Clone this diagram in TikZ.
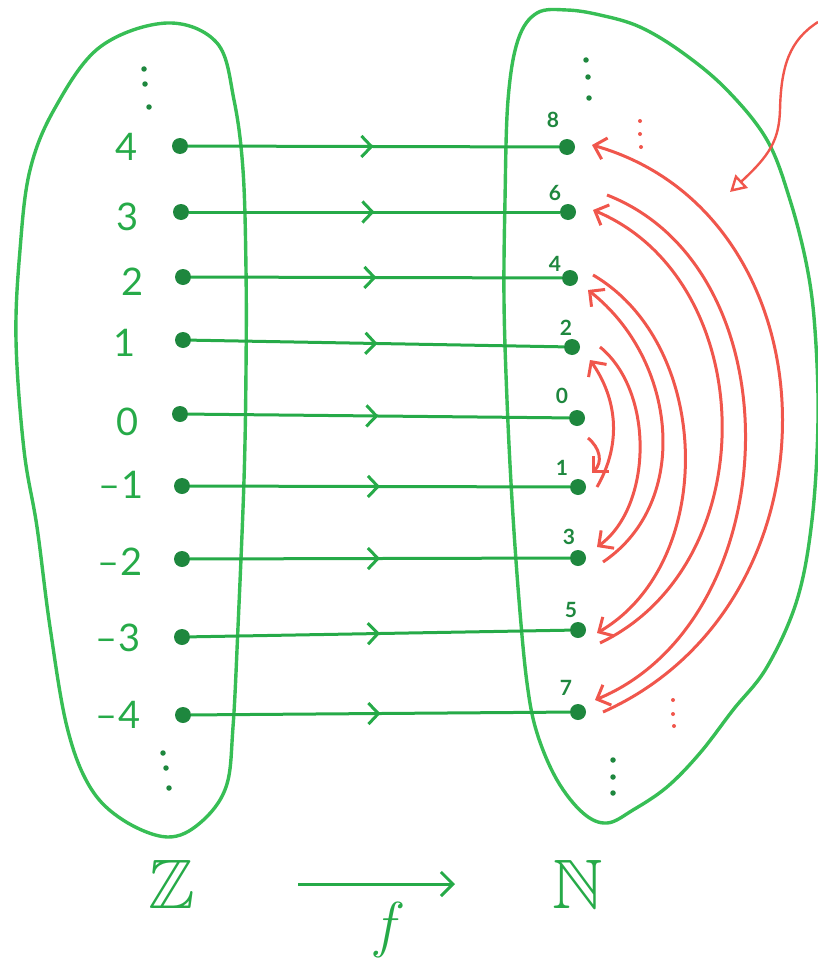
\documentclass[tikz,border=0pt]{standalone}
\usepackage{amssymb}
\usepackage{fontspec}
\setmainfont{Lato}
\newfontfamily\lmfont{Latin Modern Roman}
\usetikzlibrary{arrows.meta,decorations.markings,calc}
\definecolor{gline}{RGB}{38,170,72}
\definecolor{gblob}{RGB}{55,190,85}
\definecolor{gdot}{RGB}{30,135,62}
\definecolor{rline}{RGB}{240,86,76}
\tikzset{
 dot/.style={circle,fill=gdot,inner sep=0pt,minimum size=16pt},
 mapline/.style={color=gline,line width=3pt,postaction={decorate},
   decoration={markings,mark=at position 0.5 with {\arrow{Straight Barb[length=10pt,width=21pt]}}}},
 blob/.style={draw=gblob,line width=3.4pt},
 zlab/.style={text=gline,font=\fontsize{38}{40}\selectfont},
 nlab/.style={text=gdot,font=\fontsize{21}{22}\selectfont\bfseries},
 redarc/.style={draw=rline,line width=3pt,-{Straight Barb[length=11pt,width=22pt]}},
 gell/.style={circle,fill=gdot,inner sep=0pt,minimum size=5.5pt},
 rell/.style={circle,fill=rline,inner sep=0pt,minimum size=4pt},
 bigset/.style={text=gline,font=\fontsize{70}{72}\selectfont},
}
\begin{document}
\begin{tikzpicture}[x=1pt,y=-1pt]
\useasboundingbox (0,0) rectangle (817,966);
% blobs
\draw[blob] plot[smooth cycle,tension=0.6] coordinates {(167,23) (217,43) (234,100) (243,170) (246,270) (246,370) (244,480) (238,627) (233,727) (226,787) (200,823) (167,837) (123,820) (90,787) (67,727) (50,627) (37,527) (24,450) (16,340) (20,250) (30,170) (55,108) (100,47)};
\draw[blob] plot[smooth cycle,tension=0.6] coordinates {(537,13) (567,10) (600,15) (640,27) (683,53) (727,90) (767,140) (790,200) (807,267) (815,330) (818,420) (812,520) (797,600) (767,667) (733,710) (700,753) (667,787) (633,810) (607,823) (583,813) (557,780) (537,733) (527,683) (519,600) (512,500) (507,400) (504,300) (505,200) (508,100) (518,40)};
% Z dots
\node[dot] (z4) at (180,146) {};
\node[dot] (z3) at (181,212) {};
\node[dot] (z2) at (183,277) {};
\node[dot] (z1) at (183,340) {};
\node[dot] (z0) at (180,414) {};
\node[dot] (zm1) at (182,486) {};
\node[dot] (zm2) at (182,559) {};
\node[dot] (zm3) at (182,637) {};
\node[dot] (zm4) at (183,715) {};
% N dots
\node[dot] (n8) at (567,147) {};
\node[dot] (n6) at (568,212) {};
\node[dot] (n4) at (570,278) {};
\node[dot] (n2) at (572,347) {};
\node[dot] (n0) at (577,418) {};
\node[dot] (n1) at (578,487) {};
\node[dot] (n3) at (578,558) {};
\node[dot] (n5) at (578,630) {};
\node[dot] (n7) at (578,712) {};
% Z labels
\node[zlab] (lz4) at (127,147) {4};
\node[zlab] (lz3) at (128,217) {3};
\node[zlab] (lz2) at (133,282) {2};
\node[zlab] (lz1) at (125,343) {1};
\node[zlab] (lz0) at (128,422) {0};
\node[zlab] (lzm1) at (121,485) {–1};
\node[zlab] (lzm2) at (120,562) {–2};
\node[zlab] (lzm3) at (118,638) {–3};
\node[zlab] (lzm4) at (118,715) {–4};
% N labels
\node[nlab] (ln8) at (553,120) {8};
\node[nlab] (ln6) at (555,193) {6};
\node[nlab] (ln4) at (555,264) {4};
\node[nlab] (ln2) at (566,328) {2};
\node[nlab] (ln0) at (562,396) {0};
\node[nlab] (ln1) at (562,468) {1};
\node[nlab] (ln3) at (569,537) {3};
\node[nlab] (ln5) at (571,610) {5};
\node[nlab] (ln7) at (566,688) {7};
% ellipsis dots
\node[gell] (ze1) at (144,69) {};
\node[gell] (ze2) at (145,84) {};
\node[gell] (ze3) at (149,107) {};
\node[gell] (ze4) at (163,753) {};
\node[gell] (ze5) at (166,768) {};
\node[gell] (ze6) at (169,788) {};
\node[gell] (ne1) at (586,60) {};
\node[gell] (ne2) at (588,77) {};
\node[gell] (ne3) at (589,98) {};
\node[gell] (ne4) at (613,760) {};
\node[gell] (ne5) at (613,777) {};
\node[gell] (ne6) at (613,793) {};
\node[rell] (re1) at (640,121) {};
\node[rell] (re2) at (640,134) {};
\node[rell] (re3) at (641,147) {};
\node[rell] (re4) at (673,700) {};
\node[rell] (re5) at (673,714) {};
\node[rell] (re6) at (674,726) {};
% mapping lines
\draw[mapline] (z4) -- (n8);
\draw[mapline] (z3) -- (n6);
\draw[mapline] (z2) -- (n4);
\draw[mapline] (z1) -- (n2);
\draw[mapline] (z0) -- (n0);
\draw[mapline] (zm1) -- (n1);
\draw[mapline] (zm2) -- (n3);
\draw[mapline] (zm3) -- (n5);
\draw[mapline] (zm4) -- (n7);
% red arcs
\draw[redarc] ($(n0)+(11,20)$) .. controls +(12,10) and +(11,-11) .. ($(n1)+(14,-14)$);
\draw[redarc] ($(n1)+(19,0)$) .. controls +(26,-45) and +(26,37) .. ($(n2)+(18,13)$);
\draw[redarc] ($(n2)+(28,0)$) .. controls +(55,45) and +(55,-40) .. ($(n3)+(19,-11)$);
\draw[redarc] ($(n3)+(25,4)$) .. controls +(89,-60) and +(89,70) .. ($(n4)+(18,12)$);
\draw[redarc] ($(n4)+(23,-3)$) .. controls +(120,70) and +(120,-70) .. ($(n5)+(19,3)$);
\draw[redarc] ($(n5)+(22,13)$) .. controls +(167,-80) and +(167,70) .. ($(n6)+(25,-2)$);
\draw[redarc] ($(n6)+(39,-17)$) .. controls +(192,75) and +(192,-80) .. ($(n7)+(17,-12)$);
\draw[redarc] ($(n7)+(25,0)$) .. controls +(246,-110) and +(246,70) .. ($(n8)+(25,-2)$);
% top-right red arrow
\coordinate (rstart) at (818,22);
\coordinate (rtip) at (730,192);
\draw[draw=rline,line width=2.4pt,-{Triangle[open,length=16pt,width=18pt]}] (rstart) .. controls (790,40) and (781,65) .. (780,110) .. controls (779,140) and (770,155) .. (rtip);
% bottom
\node[bigset] (Zset) at (172,884) {$\mathbb{Z}$};
\node[bigset] (Nset) at (578,884) {$\mathbb{N}$};
\draw[gline,line width=3pt,shorten <=126pt,shorten >=123pt,-{Straight Barb[length=12pt,width=24pt]}] (Zset.center) -- (Nset.center);
\node[text=gline,font=\fontsize{62}{62}\selectfont\lmfont\itshape] (fl) at (385,930) {f};
\end{tikzpicture}
\end{document}
